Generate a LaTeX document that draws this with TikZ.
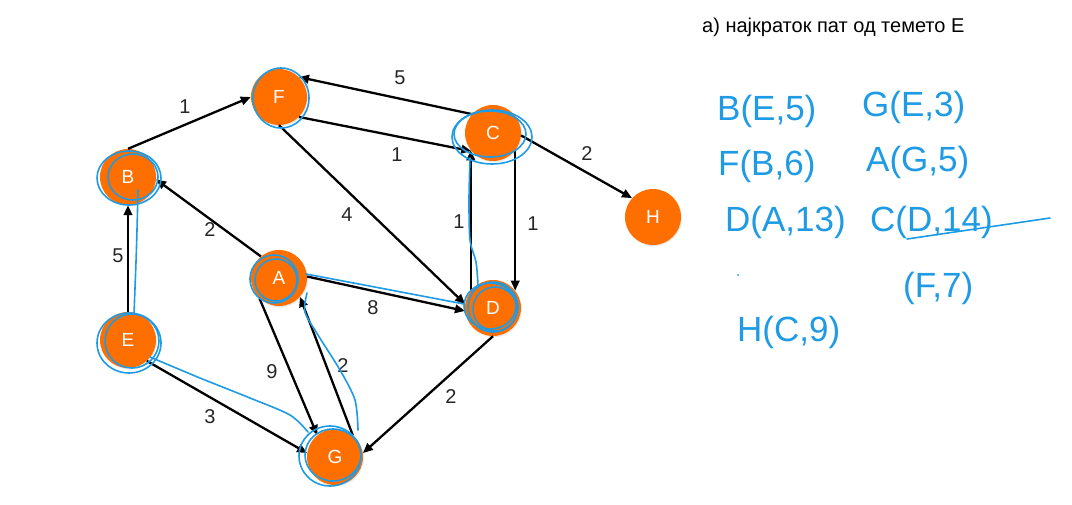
\documentclass[tikz,border=0pt]{standalone}
\usepackage{fontspec}
\setmainfont{Liberation Sans}
\usetikzlibrary{arrows.meta,shadows}
\definecolor{nodeorange}{RGB}{255,111,0}
\definecolor{inkblue}{RGB}{30,155,228}
\begin{document}
\begin{tikzpicture}[x=1pt,y=-1pt,
  vertex/.style={circle,fill=nodeorange,minimum size=56pt,inner sep=0pt,
    text=white,font=\fontsize{19}{19}\selectfont,
    drop shadow={opacity=0.18,shadow xshift=0.8pt,shadow yshift=-1.2pt}},
  arc/.style={draw=black,line width=2.3pt,-{Triangle[length=10pt,width=8.5pt]}},
  wt/.style={font=\fontsize{20}{20}\selectfont,text=black!85,inner sep=0pt},
  ink/.style={draw=inkblue,line width=1.6pt,line cap=round,line join=round},
  handtext/.style={text=inkblue,font=\fontsize{35}{35}\selectfont,inner sep=0pt,anchor=west}
]
\useasboundingbox[fill=white] (0,0) rectangle (1072,504);

% vertices
\node[vertex] (F) at (279,97)  {F};
\node[vertex] (C) at (493,133) {C};
\node[vertex] (B) at (128,177) {B};
\node[vertex] (H) at (653,217) {H};
\node[vertex] (A) at (279,278) {A};
\node[vertex] (D) at (493,308) {D};
\node[vertex] (E) at (128,340) {E};
\node[vertex] (G) at (335,457) {G};

% weighted directed edges
\draw[arc] (B.north) -- (F.west);
\draw[arc] (C.138) -- (F.45);
\draw[arc] (F.-45) -- (C.-140);
\draw[arc] (C.-5) -- (H.138);
\draw[arc] (F.south) -- (D.172);
\draw[arc] (A.130) -- (B.-5);
\draw[arc] (E.north) -- (B.south);
\draw[arc] (A.3) -- (D.186);
\draw[arc] (D.142) -- (C.-142);
\draw[arc] (C.-38) -- (D.38);
\draw[arc] (A.-134) -- (G.129);
\draw[arc] (G.51) -- (A.-42);
\draw[arc] (E.-48) -- (G.172);
\draw[arc] (D.south) -- (G.8);

% edge weights
\node[wt] (wBF) at (185,107) {1};
\node[wt] (wCF) at (400,78)  {5};
\node[wt] (wFC) at (397,155) {1};
\node[wt] (wCH) at (587,154) {2};
\node[wt] (wFD) at (347,215) {4};
\node[wt] (wAB) at (210,230) {2};
\node[wt] (wEB) at (118,256) {5};
\node[wt] (wAD) at (373,308) {8};
\node[wt] (wDC) at (459,222) {1};
\node[wt] (wCD) at (533,224) {1};
\node[wt] (wAG) at (272,372) {9};
\node[wt] (wGA) at (343,366) {2};
\node[wt] (wEG) at (210,417) {3};
\node[wt] (wDG) at (451,397) {2};

% heading
\node[anchor=west,font=\fontsize{20}{20}\selectfont,inner sep=0pt] (title) at (702,27) {а) најкраток пат од темето Е};

% hand-drawn marks around visited vertices
\draw[ink] (129,178) ellipse [x radius=32,y radius=27];
\draw[ink] (133,177) ellipse [x radius=25,y radius=23];
\draw[ink] (281,98) ellipse [x radius=28,y radius=30];
\draw[ink] (492,137) ellipse [x radius=40,y radius=27];
\draw[ink] (490,134) ellipse [x radius=36,y radius=23];
\draw[ink] (493,307) ellipse [x radius=25,y radius=25];
\draw[ink] (495,309) ellipse [x radius=22,y radius=22];
\draw[ink] (490,306) ellipse [x radius=26,y radius=23];
\draw[ink] (274,279) ellipse [x radius=24,y radius=24];
\draw[ink] (276,280) ellipse [x radius=21,y radius=21];
\draw[ink] (129,343) ellipse [x radius=32,y radius=30];
\draw[ink] (132,341) ellipse [x radius=27,y radius=27];
\draw[ink] (330,456) ellipse [x radius=31,y radius=30];
\draw[ink] (333,455) ellipse [x radius=28,y radius=26];

% hand-drawn shortest-path tree
\draw[ink] plot[smooth] coordinates {(134,314) (136,262) (137,230) (138,190)};
\draw[ink] plot[smooth] coordinates {(150,357) (200,378) (250,398) (290,415) (308,432)};
\draw[ink] plot[smooth] coordinates {(358,430) (355,400) (340,370) (318,335) (305,312) (307,293)};
\draw[ink] plot[smooth] coordinates {(306,274) (380,288) (464,304)};
\draw[ink] plot[smooth] coordinates {(478,285) (476,262) (470,240) (469,200) (470,158)};

% hand-written distance table
\node[handtext] (tB) at (717,111) {B(E,5)};
\node[handtext] (tG) at (862,107) {G(E,3)};
\node[handtext] (tF) at (718,166) {F(B,6)};
\node[handtext] (tA) at (866,162) {A(G,5)};
\node[handtext] (tD) at (725,222) {D(A,13)};
\node[handtext] (tC) at (870,222) {C(D,14)};
\node[handtext] (tC2) at (903,288) {(F,7)};
\node[handtext] (tH) at (737,332) {H(C,9)};
\draw[ink] (907,239) -- (1050,218);
\fill[inkblue] (738,275) circle (1pt);
\end{tikzpicture}
\end{document}
